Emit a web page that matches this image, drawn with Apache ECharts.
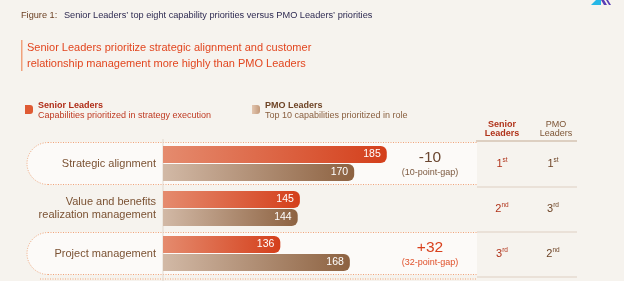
<!DOCTYPE html>
<html>
<head>
<meta charset="utf-8">
<script src="https://cdn.jsdelivr.net/npm/echarts@6/dist/echarts.min.js"></script>
<style>
  html, body { margin: 0; padding: 0; background: #f6f3ee; }
  #chart { width: 624px; height: 281px; }
</style>
</head>
<body>
<div id="chart"></div>
<script>
// data
const categories = ['Strategic alignment', 'Value and benefits\nrealization management', 'Project management']
const seniorValues = [185, 145, 136]
const pmoValues = [170, 144, 168]
const gapLabels = ['-10', '', '+32']
const gapNotes = ['(10-point-gap)', '', '(32-point-gap)']
const seniorRanks = [['1', 'st'], ['2', 'nd'], ['3', 'rd']]
const pmoRanks = [['1', 'st'], ['3', 'rd'], ['2', 'nd']]
const highlightRows = [0, 2]

const FONT = '"Liberation Sans", Arial, sans-serif'
const BG = '#f6f3ee'

const chart = echarts.init(document.getElementById('chart'))

const seniorGrad = new echarts.graphic.LinearGradient(0, 0, 1, 0, [
  { offset: 0, color: '#e58b6e' },
  { offset: 1, color: '#d43f1b' }
])
const pmoGrad = new echarts.graphic.LinearGradient(0, 0, 1, 0, [
  { offset: 0, color: '#d2b9a6' },
  { offset: 1, color: '#8d6241' }
])

chart.setOption({
  backgroundColor: BG,
  animation: false,
  textStyle: { fontFamily: FONT },
  grid: { left: 163, right: 96, top: 141, height: 135 },
  xAxis: {
    type: 'value',
    min: 82,
    max: 250,
    show: false
  },
  yAxis: {
    type: 'category',
    inverse: true,
    z: 20,
    data: categories,
    axisLine: { show: false },
    axisTick: { show: false },
    axisLabel: {
      color: '#7b5233',
      fontSize: 11,
      lineHeight: 13,
      margin: 7,
      fontFamily: FONT
    }
  },
  series: [
    {
      name: 'Senior Leaders',
      type: 'bar',
      data: seniorValues,
      barWidth: 17,
      barGap: '6%',
      z: 5,
      itemStyle: { color: seniorGrad, borderRadius: [0, 6, 6, 0] },
      label: {
        show: true,
        position: 'insideRight',
        offset: [-1, 0],
        color: '#fff',
        fontSize: 10.5,
        fontFamily: FONT
      }
    },
    {
      name: 'PMO Leaders',
      type: 'bar',
      data: pmoValues,
      barWidth: 17,
      z: 5,
      itemStyle: { color: pmoGrad, borderRadius: [0, 6, 6, 0] },
      label: {
        show: true,
        position: 'insideRight',
        offset: [-1, 0],
        color: '#fff',
        fontSize: 10.5,
        fontFamily: FONT
      }
    }
  ]
})

// row positions from the category axis
const rowY = categories.map((c, i) => chart.convertToPixel({ yAxisIndex: 0 }, i))
const band = rowY.length > 1 ? rowY[1] - rowY[0] : 45
const axisX = chart.convertToPixel({ xAxisIndex: 0 }, 82)

const dotted = { stroke: '#f1a57a', lineWidth: 1, lineDash: [1, 1.5] }
const els = []

// header block
els.push({
  type: 'text', left: 21, top: 9, z: 10,
  style: {
    text: '{a|Figure 1:}  {b|Senior Leaders\u2019 top eight capability priorities versus PMO Leaders\u2019 priorities}',
    rich: {
      a: { fill: '#6b3f22', fontSize: 9.2, fontFamily: FONT },
      b: { fill: '#2f2b52', fontSize: 9.2, fontFamily: FONT }
    }
  }
})
els.push({ type: 'rect', shape: { x: 21, y: 40, width: 1.5, height: 31 }, style: { fill: '#f0a27c' } })
els.push({
  type: 'text', left: 27, top: 40, z: 10,
  style: {
    text: 'Senior Leaders prioritize strategic alignment and customer\nrelationship management more highly than PMO Leaders',
    fill: '#e2461f', fontSize: 11, lineHeight: 16, fontFamily: FONT
  }
})

// top-right logo fragment
els.push({ type: 'polygon', shape: { points: [[591, 5], [596, 0], [601, 0], [601, 5]] }, style: { fill: '#27b7e6' } })
els.push({ type: 'polygon', shape: { points: [[601, 0], [604, 0], [607, 5], [604, 5]] }, style: { fill: '#5a3fb5' } })
els.push({ type: 'polygon', shape: { points: [[606, 0], [608, 0], [611, 5], [609, 5]] }, style: { fill: '#5a3fb5' } })

// legend
els.push({ type: 'rect', shape: { x: 25, y: 105, width: 8, height: 9, r: [0, 3, 3, 0] }, style: { fill: '#df5a33' } })
els.push({
  type: 'text', left: 38, top: 101, z: 10,
  style: {
    text: '{a|Senior Leaders}\n{b|Capabilities prioritized in strategy execution}',
    rich: {
      a: { fill: '#b02d18', fontSize: 9, fontWeight: 'bold', lineHeight: 10.5, fontFamily: FONT },
      b: { fill: '#bf3a22', fontSize: 9, lineHeight: 10.5, fontFamily: FONT }
    }
  }
})
els.push({
  type: 'rect', shape: { x: 252, y: 105, width: 8, height: 9, r: [0, 3, 3, 0] },
  style: { fill: new echarts.graphic.LinearGradient(0, 0, 1, 0, [{ offset: 0, color: '#e3c6b0' }, { offset: 1, color: '#c39a7b' }]) }
})
els.push({
  type: 'text', left: 265, top: 101, z: 10,
  style: {
    text: '{a|PMO Leaders}\n{b|Top 10 capabilities prioritized in role}',
    rich: {
      a: { fill: '#6e4426', fontSize: 9, fontWeight: 'bold', lineHeight: 10.5, fontFamily: FONT },
      b: { fill: '#8a6040', fontSize: 9, lineHeight: 10.5, fontFamily: FONT }
    }
  }
})

// table headers
els.push({
  type: 'text', x: 502, y: 129, z: 10,
  style: { text: 'Senior\nLeaders', fill: '#b0331a', fontSize: 9, fontWeight: 'bold', lineHeight: 9.5, align: 'center', verticalAlign: 'middle', fontFamily: FONT }
})
els.push({
  type: 'text', x: 556, y: 129, z: 10,
  style: { text: 'PMO\nLeaders', fill: '#7d5535', fontSize: 9, lineHeight: 9.5, align: 'center', verticalAlign: 'middle', fontFamily: FONT }
})
els.push({ type: 'line', shape: { x1: 476, y1: 141, x2: 577, y2: 141 }, style: { stroke: '#ddcfc1', lineWidth: 2 } })

// highlighted rows (pill shapes)
highlightRows.forEach(i => {
  const top = rowY[i] - band / 2 + 1.5
  const h = band - 3
  const r = h / 2
  els.push({ type: 'rect', z: 1, shape: { x: 27, y: top, width: 450, height: h, r: [r, 0, 0, r] }, style: { fill: '#fcfaf8' } })
  els.push({ type: 'line', z: 2, shape: { x1: 27 + r, y1: top, x2: 477, y2: top }, style: dotted })
  els.push({ type: 'line', z: 2, shape: { x1: 27 + r, y1: top + h, x2: 477, y2: top + h }, style: dotted })
  els.push({ type: 'arc', z: 2, shape: { cx: 27 + r, cy: top + r, r: r, startAngle: Math.PI / 2, endAngle: Math.PI * 3 / 2 }, style: Object.assign({ fill: null }, dotted) })
})
// start of the next highlighted row, cut off at the bottom
const nextTop = rowY[2] + band / 2 + 3
els.push({ type: 'line', z: 2, shape: { x1: 40, y1: nextTop, x2: 477, y2: nextTop }, style: dotted })

// axis line
els.push({ type: 'line', z: 3, shape: { x1: axisX, y1: 139, x2: axisX, y2: 281 }, style: { stroke: '#e3d8cd', lineWidth: 1 } })

// gaps, ranks and separators
categories.forEach((c, i) => {
  const y = rowY[i]
  if (gapLabels[i]) {
    const col = gapLabels[i].startsWith('+') ? '#d9411d' : '#6a4630'
    const col2 = gapLabels[i].startsWith('+') ? '#e0502a' : '#7d5a40'
    els.push({ type: 'text', x: 430, y: y - 6, z: 10, style: { text: gapLabels[i], fill: col, fontSize: 15.5, align: 'center', verticalAlign: 'middle', fontFamily: FONT } })
    els.push({ type: 'text', x: 430, y: y + 9, z: 10, style: { text: gapNotes[i], fill: col2, fontSize: 9, align: 'center', verticalAlign: 'middle', fontFamily: FONT } })
  }
  const rankRich = color => ({
    n: { fill: color, fontSize: 11, fontFamily: FONT },
    s: { fill: color, fontSize: 6.5, padding: [0, 0, 6, 0], fontFamily: FONT }
  })
  els.push({ type: 'text', x: 502, y: y, z: 10, style: { text: '{n|' + seniorRanks[i][0] + '}{s|' + seniorRanks[i][1] + '}', rich: rankRich('#b0331a'), align: 'center', verticalAlign: 'middle' } })
  els.push({ type: 'text', x: 553, y: y, z: 10, style: { text: '{n|' + pmoRanks[i][0] + '}{s|' + pmoRanks[i][1] + '}', rich: rankRich('#6e4426'), align: 'center', verticalAlign: 'middle' } })
  const sepY = y + band / 2
  els.push({ type: 'line', shape: { x1: 477, y1: sepY + 1, x2: 577, y2: sepY + 1 }, style: { stroke: '#e6dbd0', lineWidth: 1.5 } })
})

chart.setOption({ graphic: { elements: els } })

window.addEventListener('resize', () => chart.resize())
</script>
</body>
</html>
